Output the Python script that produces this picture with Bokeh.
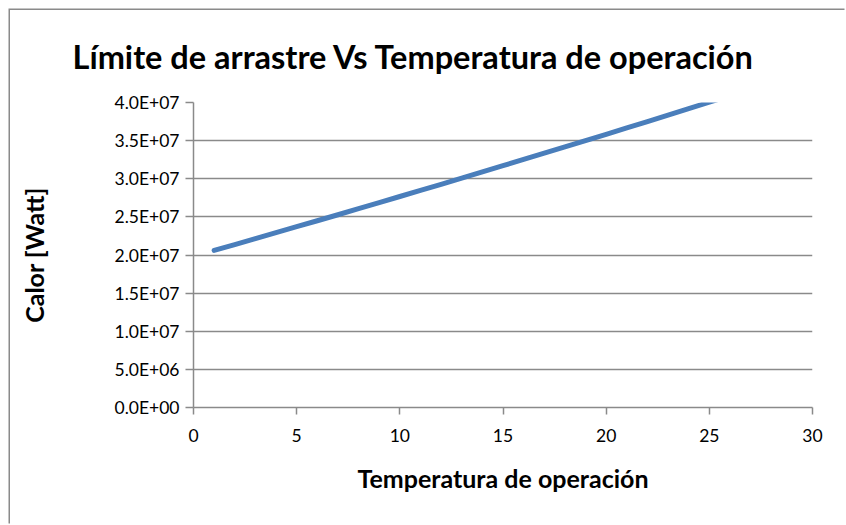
from bokeh.plotting import figure
from bokeh.models import Range1d, FixedTicker, CustomJSTickFormatter, Title
from bokeh.embed import file_html
from bokeh.resources import INLINE

# Operating temperature and drag-limit heat
temperatura = [1, 2, 3, 4, 5, 6, 7, 8, 9, 10, 11, 12, 13,
               14, 15, 16, 17, 18, 19, 20, 21, 22, 23, 24, 25, 26]
calor = [2.060e7, 2.137e7, 2.215e7, 2.293e7, 2.371e7, 2.449e7, 2.528e7,
         2.607e7, 2.687e7, 2.767e7, 2.847e7, 2.927e7, 3.008e7, 3.089e7,
         3.171e7, 3.253e7, 3.335e7, 3.417e7, 3.500e7, 3.583e7, 3.667e7,
         3.750e7, 3.834e7, 3.919e7, 4.004e7, 4.089e7]

x_ticks = [0, 5, 10, 15, 20, 25, 30]
y_ticks = [0, 5e6, 1e7, 1.5e7, 2e7, 2.5e7, 3e7, 3.5e7, 4e7]

FONT = "Lato"
GRAY = "#8a8a8a"

p = figure(width=836, height=515, output_backend="svg", toolbar_location=None,
           x_range=Range1d(0, 30), y_range=Range1d(0, 4e7),
           min_border_left=183, min_border_right=34,
           min_border_top=92, min_border_bottom=118)
# chart-area border (top and left edges), drawn outside the canvas
p.margin = (10, 0, 0, 10)
p.styles = {"box-shadow": "-1.5px -1.5px 0px 0px #8a8a8a"}
p.outline_line_color = None
p.background_fill_color = "white"
p.border_fill_color = "white"

p.line(temperatura, calor, line_color="#4a7ebb", line_width=5,
       line_cap="round", line_join="round")

# axes
p.xaxis.ticker = FixedTicker(ticks=x_ticks)
p.yaxis.ticker = FixedTicker(ticks=y_ticks)
p.yaxis.formatter = CustomJSTickFormatter(code="""
    if (tick === 0) { return "0.0E+00"; }
    const e = Math.floor(Math.log10(Math.abs(tick)) + 1e-9);
    const m = tick / Math.pow(10, e);
    return m.toFixed(1) + "E+" + String(e).padStart(2, "0");
""")
for ax in (p.xaxis[0], p.yaxis[0]):
    ax.axis_line_color = GRAY
    ax.axis_line_width = 1.5
    ax.major_tick_line_color = GRAY
    ax.major_tick_line_width = 1.5
    ax.major_tick_in = 0
    ax.minor_tick_line_color = None
    ax.major_label_text_font = FONT
    ax.major_label_text_font_size = "17.5px"
    ax.major_label_text_color = "black"
    ax.axis_label_text_font = FONT
    ax.axis_label_text_font_size = "25px"
    ax.axis_label_text_font_style = "bold"
    ax.axis_label_text_color = "black"

p.xaxis.major_tick_out = 7
p.yaxis.major_tick_out = 8
p.xaxis.major_label_standoff = 14
p.yaxis.major_label_standoff = 6
p.xaxis.axis_label = "Temperatura de operación"
p.yaxis.axis_label = "Calor [Watt]"
p.xaxis.axis_label_standoff = 18
p.yaxis.axis_label_standoff = 63

p.xgrid.grid_line_color = None
p.ygrid.grid_line_color = GRAY
p.ygrid.grid_line_width = 1.5

# chart title, shifted left from the plot frame's edge
p.add_layout(Title(text="Límite de arrastre Vs Temperatura de operación",
                   align="left", vertical_align="top", offset=-121,
                   standoff=50, text_font=FONT, text_font_style="bold",
                   text_font_size="32.5px", text_color="black"), "above")

open("out.html", "w").write(file_html(p, INLINE))
